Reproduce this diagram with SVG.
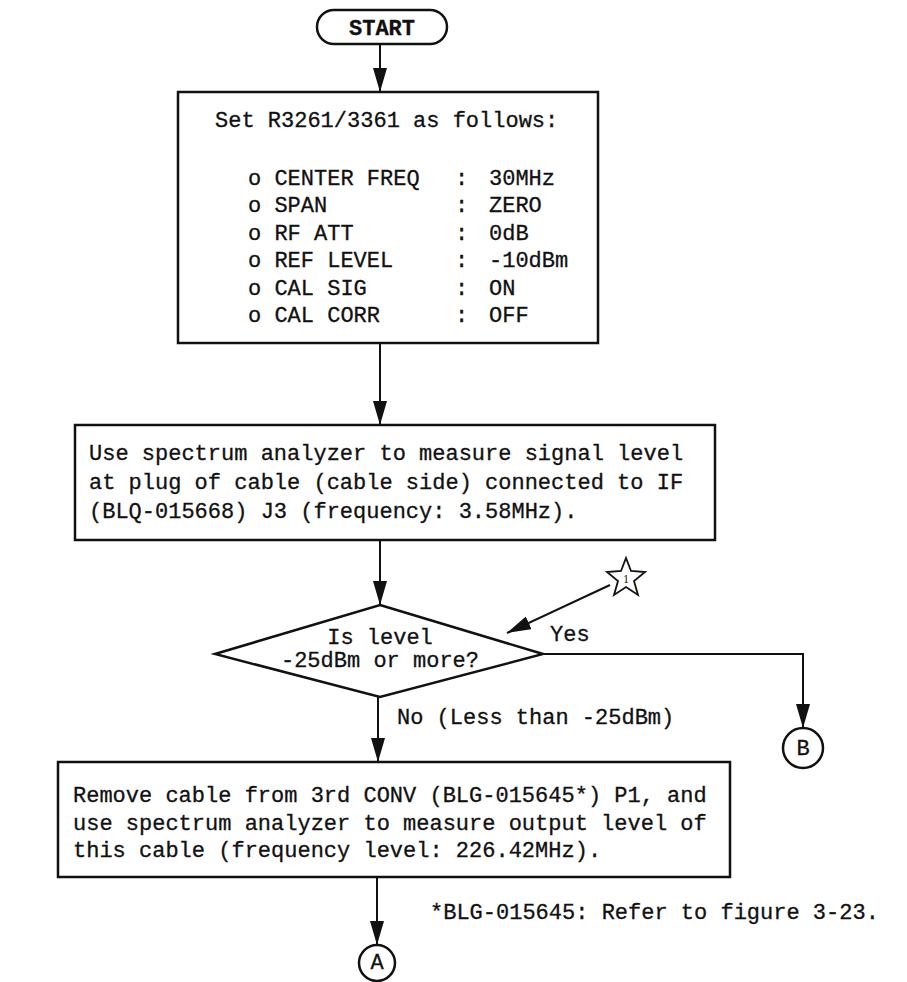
<svg xmlns="http://www.w3.org/2000/svg" width="907" height="982" viewBox="0 0 907 982">
<defs>
<marker id="ah" markerUnits="userSpaceOnUse" viewBox="0 0 24 14" markerWidth="24" markerHeight="14" refX="24" refY="7" orient="auto"><path d="M0,0 L24,7 L0,14 z" fill="#111"/></marker>
<style>
.t{font-family:"Liberation Mono","DejaVu Sans Mono",monospace;font-size:22px;fill:#111;stroke:#111;stroke-width:0.3}
.c{text-anchor:middle}
.box{fill:#fff;stroke:#111;stroke-width:2.5}
.ln{fill:none;stroke:#111;stroke-width:2}
.ar{marker-end:url(#ah)}
</style>
</defs>
<rect width="907" height="982" fill="#fff"/>
<g id="connectors">
<line class="ln ar" x1="380" y1="44" x2="380" y2="92"/>
<line class="ln ar" x1="380" y1="343" x2="380" y2="425"/>
<line class="ln ar" x1="380" y1="540" x2="380" y2="605"/>
<line class="ln ar" x1="378" y1="697" x2="378" y2="762"/>
<polyline class="ln ar" points="543,654 803,654 803,728"/>
<line class="ln ar" x1="610" y1="585" x2="507" y2="633"/>
<line class="ln ar" x1="377" y1="877" x2="377" y2="945"/>
<text class="t" x="550" y="641">Yes</text>
<text class="t" x="397" y="724">No (Less than -25dBm)</text>
</g>
<g id="start">
<rect class="box" x="317" y="10" width="130" height="34" rx="17"/>
<text class="t c" x="382" y="35" font-weight="bold">START</text>
</g>
<g id="settings">
<rect class="box" x="178" y="92" width="420" height="251"/>
<text class="t" x="215" y="127">Set R3261/3361 as follows:</text>
<text class="t" x="248" y="185">o CENTER FREQ</text><text class="t" x="455" y="185">:</text><text class="t" x="489" y="185">30MHz</text>
<text class="t" x="248" y="212">o SPAN</text><text class="t" x="455" y="212">:</text><text class="t" x="489" y="212">ZERO</text>
<text class="t" x="248" y="240">o RF ATT</text><text class="t" x="455" y="240">:</text><text class="t" x="489" y="240">0dB</text>
<text class="t" x="248" y="267">o REF LEVEL</text><text class="t" x="455" y="267">:</text><text class="t" x="489" y="267">-10dBm</text>
<text class="t" x="248" y="295">o CAL SIG</text><text class="t" x="455" y="295">:</text><text class="t" x="489" y="295">ON</text>
<text class="t" x="248" y="322">o CAL CORR</text><text class="t" x="455" y="322">:</text><text class="t" x="489" y="322">OFF</text>
</g>
<g id="measure">
<rect class="box" x="75" y="425" width="640" height="115"/>
<text class="t" x="89" y="460">Use spectrum analyzer to measure signal level</text>
<text class="t" x="89" y="489">at plug of cable (cable side) connected to IF</text>
<text class="t" x="89" y="518">(BLQ-015668) J3 (frequency: 3.58MHz).</text>
</g>
<g id="decision">
<polygon class="box" points="380,605 543,654 380,697 215,654"/>
<text class="t c" x="380" y="644">Is level</text>
<text class="t c" x="380" y="667">-25dBm or more?</text>
</g>
<g id="star">
<polygon fill="#fff" stroke="#111" stroke-width="1.8" points="626,558 631,571 645,572 634,581 638,595 626,587 614,595 618,581 607,572 621,571"/>
<text x="626" y="583" text-anchor="middle" font-family="Liberation Serif,serif" font-size="12" fill="#111">1</text>
</g>
<g id="remove">
<rect class="box" x="58" y="762" width="672" height="115"/>
<text class="t" x="73" y="802">Remove cable from 3rd CONV (BLG-015645*) P1, and</text>
<text class="t" x="73" y="830">use spectrum analyzer to measure output level of</text>
<text class="t" x="73" y="857">this cable (frequency level: 226.42MHz).</text>
</g>
<g id="B">
<circle class="box" cx="803" cy="748" r="20"/>
<text class="t c" x="803" y="755" font-size="18">B</text>
</g>
<g id="A">
<circle class="box" cx="377" cy="963" r="18"/>
<text class="t c" x="377" y="969" font-size="18">A</text>
</g>
<text class="t" x="430" y="919">*BLG-015645: Refer to figure 3-23.</text>
</svg>
